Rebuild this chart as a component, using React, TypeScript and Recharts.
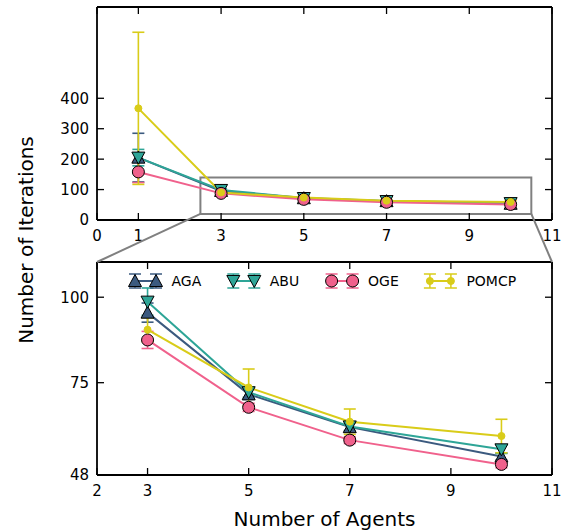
import React from 'react';
import { ComposedChart, Line, XAxis, YAxis, ErrorBar, ReferenceArea, Legend } from 'recharts';

// ---------- data ----------
const agents = [1, 3, 5, 7, 10];
const agaMean = [205, 95.5, 71.6, 62.0, 53.4];
const agaErr = [80, 2.8, 1.5, 1.2, 1.0];
const abuMean = [205, 98.7, 72.2, 62.2, 55.5];
const abuErr = [27, 4.0, 1.5, 1.2, 1.2];
const ogeMean = [158, 87.5, 67.8, 58.2, 51.1];
const ogeErr = [35, 2.5, 1.2, 1.0, 1.0];
const pomcpMean = [367, 90.5, 73.6, 63.6, 59.4];
const pomcpErr = [250, 3.5, 5.4, 3.7, 4.9];

const seriesNames = ['AGA', 'ABU', 'OGE', 'POMCP'];

const topXTicks = [0, 1, 3, 5, 7, 9, 11];
const topYTicks = [0, 100, 200, 300, 400];
const topXDomain = [0, 11];
const topYDomain = [0, 700];
const bottomXTicks = [2, 3, 5, 7, 9, 11];
const bottomYTicks = [48, 75, 100];
const bottomXDomain = [2, 11];
const bottomYDomain = [48, 110.3];
const zoomBox = { x1: 2.5, x2: 10.5, y1: 20, y2: 140 };

const xLabel = 'Number of Agents';
const yLabel = 'Number of Iterations';

// ---------- styles ----------
const FONT = 'DejaVu Sans, Verdana, sans-serif';
const COLORS = { AGA: '#3b5a7f', ABU: '#2ea597', OGE: '#f0618c', POMCP: '#d9cc19' };
const W = 566;
const PLOT_LEFT = 97;
const PLOT_RIGHT = 552;
const TOP_PLOT_TOP = 7;
const TOP_PLOT_BOTTOM = 220;
const TOP_H = 250;
const BOT_TOP = 240;
const BOT_H = 292;
const BOT_PLOT_TOP = 262;
const BOT_PLOT_BOTTOM = 475;
const TICK_LEN = 7;
const FRAME_W = 1.8;
const LEFT_AX_W = 40;
const RIGHT_AX_W = 8;
const BOTTOM_AX_H = 25;
const TOP_AX_H = 5;

const tableData = agents.map((a, i) => ({
  agents: a,
  AGA: agaMean[i], AGAErr: agaErr[i],
  ABU: abuMean[i], ABUErr: abuErr[i],
  OGE: ogeMean[i], OGEErr: ogeErr[i],
  POMCP: pomcpMean[i], POMCPErr: pomcpErr[i],
}));
const bottomData = tableData.filter((d) => d.agents >= bottomXDomain[0]);

// ---------- markers ----------
function Marker({ kind, cx, cy, color }: any) {
  if (cx == null || cy == null || isNaN(cx) || isNaN(cy)) return null;
  if (kind === 'AGA') {
    const s = 6.5;
    return <polygon points={`${cx},${cy - s} ${cx + s},${cy + s * 0.85} ${cx - s},${cy + s * 0.85}`} fill={color} stroke="#000" strokeWidth={1} />;
  }
  if (kind === 'ABU') {
    const s = 6.5;
    return <polygon points={`${cx},${cy + s} ${cx + s},${cy - s * 0.85} ${cx - s},${cy - s * 0.85}`} fill={color} stroke="#000" strokeWidth={1} />;
  }
  if (kind === 'OGE') {
    return <circle cx={cx} cy={cy} r={6} fill={color} stroke="#000" strokeWidth={1} />;
  }
  return <circle cx={cx} cy={cy} r={3.5} fill={color} stroke={color} strokeWidth={1} />;
}

const makeDot = (kind: string) => (props: any) => (
  <Marker key={`${kind}-${props.index}`} kind={kind} cx={props.cx} cy={props.cy} color={COLORS[kind as keyof typeof COLORS]} />
);

// ---------- ticks ----------
const LeftTick = (props: any) => {
  const { x, y, payload } = props;
  return (
    <g>
      <line x1={x} y1={y} x2={x + TICK_LEN} y2={y} stroke="#000" strokeWidth={1.3} />
      <text x={x - 8} y={y} dy="0.36em" textAnchor="end" fontSize={15} fontFamily={FONT} fill="#000">{payload.value}</text>
    </g>
  );
};
const RightTick = (props: any) => {
  const { x, y } = props;
  return <line x1={x} y1={y} x2={x - TICK_LEN} y2={y} stroke="#000" strokeWidth={1.3} />;
};
const BottomTick = (props: any) => {
  const { x, y, payload } = props;
  return (
    <g>
      <line x1={x} y1={y} x2={x} y2={y - TICK_LEN} stroke="#000" strokeWidth={1.3} />
      <text x={x} y={y + 21} textAnchor="middle" fontSize={15} fontFamily={FONT} fill="#000">{payload.value}</text>
    </g>
  );
};
const TopTick = (props: any) => {
  const { x, y } = props;
  return <line x1={x} y1={y} x2={x} y2={y + TICK_LEN} stroke="#000" strokeWidth={1.3} />;
};

// ---------- legend ----------
function LegendContent() {
  const startX = 135 - PLOT_LEFT;
  const step = 98.3;
  const cy = 14;
  return (
    <svg width={PLOT_RIGHT - PLOT_LEFT} height={28} style={{ display: 'block', overflow: 'visible' }}>
      {seriesNames.map((name, i) => {
        const x0 = startX + i * step;
        const x1 = x0 + 21;
        const c = COLORS[name as keyof typeof COLORS];
        return (
          <g key={name}>
            <line x1={x0} y1={cy} x2={x1} y2={cy} stroke={c} strokeWidth={2} />
            {[x0, x1].map((xx) => (
              <g key={xx}>
                <line x1={xx} y1={cy - 7} x2={xx} y2={cy + 7} stroke={c} strokeWidth={1.5} />
                <line x1={xx - 6} y1={cy - 7} x2={xx + 6} y2={cy - 7} stroke={c} strokeWidth={1.5} />
                <line x1={xx - 6} y1={cy + 7} x2={xx + 6} y2={cy + 7} stroke={c} strokeWidth={1.5} />
                <Marker kind={name} cx={xx} cy={cy} color={c} />
              </g>
            ))}
            <text x={x0 + 36.5} y={cy} dy="0.36em" fontSize={14} fontFamily={FONT} fill="#000">{name}</text>
          </g>
        );
      })}
    </svg>
  );
}

// ---------- series ----------
function renderSeries() {
  return seriesNames.map((name) => (
    <Line
      key={name}
      xAxisId="b"
      yAxisId="l"
      type="linear"
      dataKey={name}
      stroke={COLORS[name as keyof typeof COLORS]}
      strokeWidth={2}
      dot={makeDot(name)}
      activeDot={false}
      isAnimationActive={false}
    >
      <ErrorBar dataKey={`${name}Err`} direction="y" width={6} stroke={COLORS[name as keyof typeof COLORS]} strokeWidth={1.6} isAnimationActive={false} />
    </Line>
  ));
}

function axes(xDomain: number[], xTicks: number[], yDomain: number[], yTicks: number[]) {
  return [
    <XAxis key="xb" xAxisId="b" dataKey="agents" type="number" domain={xDomain} ticks={xTicks} interval={0}
      height={BOTTOM_AX_H} tickSize={0} tickMargin={0} tickLine={false} tick={<BottomTick />}
      axisLine={{ stroke: '#000', strokeWidth: FRAME_W }} allowDataOverflow />,
    <XAxis key="xt" xAxisId="t" orientation="top" dataKey="agents" type="number" domain={xDomain} ticks={xTicks} interval={0}
      height={TOP_AX_H} tickSize={0} tickMargin={0} tickLine={false} tick={<TopTick />}
      axisLine={{ stroke: '#000', strokeWidth: FRAME_W }} allowDataOverflow />,
    <YAxis key="yl" yAxisId="l" type="number" domain={yDomain} ticks={yTicks} interval={0}
      width={LEFT_AX_W} tickSize={0} tickMargin={0} tickLine={false} tick={<LeftTick />}
      axisLine={{ stroke: '#000', strokeWidth: FRAME_W }} allowDataOverflow />,
    <YAxis key="yr" yAxisId="r" orientation="right" type="number" domain={yDomain} ticks={yTicks} interval={0}
      width={RIGHT_AX_W} tickSize={0} tickMargin={0} tickLine={false} tick={<RightTick />}
      axisLine={{ stroke: '#000', strokeWidth: FRAME_W }} allowDataOverflow />,
  ];
}

export default function App() {
  const topScaleX = (v: number) => PLOT_LEFT + ((v - topXDomain[0]) / (topXDomain[1] - topXDomain[0])) * (PLOT_RIGHT - PLOT_LEFT);
  const topScaleY = (v: number) => TOP_PLOT_BOTTOM - ((v - topYDomain[0]) / (topYDomain[1] - topYDomain[0])) * (TOP_PLOT_BOTTOM - TOP_PLOT_TOP);
  const boxL = topScaleX(zoomBox.x1);
  const boxR = topScaleX(zoomBox.x2);
  const boxB = topScaleY(zoomBox.y1);

  return (
    <div style={{ position: 'fixed', left: 0, top: 0, width: W, height: 532, background: '#fff', fontFamily: FONT }}>
      <div style={{ position: 'absolute', left: 0, top: 0 }}>
        <ComposedChart width={W} height={TOP_H} data={tableData}
          margin={{ top: TOP_PLOT_TOP - TOP_AX_H, right: W - PLOT_RIGHT - RIGHT_AX_W, bottom: TOP_H - TOP_PLOT_BOTTOM - BOTTOM_AX_H, left: PLOT_LEFT - LEFT_AX_W }}>
          {axes(topXDomain, topXTicks, topYDomain, topYTicks)}
          <ReferenceArea xAxisId="b" yAxisId="l" x1={zoomBox.x1} x2={zoomBox.x2} y1={zoomBox.y1} y2={zoomBox.y2}
            fill="none" fillOpacity={0} stroke="#808080" strokeWidth={2} ifOverflow="visible" />
          {renderSeries()}
        </ComposedChart>
      </div>
      <div style={{ position: 'absolute', left: 0, top: BOT_TOP }}>
        <ComposedChart width={W} height={BOT_H} data={bottomData}
          margin={{ top: BOT_PLOT_TOP - BOT_TOP - TOP_AX_H, right: W - PLOT_RIGHT - RIGHT_AX_W, bottom: BOT_TOP + BOT_H - BOT_PLOT_BOTTOM - BOTTOM_AX_H, left: PLOT_LEFT - LEFT_AX_W }}>
          {axes(bottomXDomain, bottomXTicks, bottomYDomain, bottomYTicks)}
          {renderSeries()}
          <Legend layout="horizontal" verticalAlign="middle" align="center" content={() => <LegendContent />}
            wrapperStyle={{ position: 'absolute', left: PLOT_LEFT, top: 281 - BOT_TOP - 14, width: PLOT_RIGHT - PLOT_LEFT, height: 28 }} />
        </ComposedChart>
      </div>
      <svg width={W} height={532} style={{ position: 'absolute', left: 0, top: 0, pointerEvents: 'none' }}>
        <line x1={boxL} y1={boxB} x2={PLOT_LEFT} y2={BOT_PLOT_TOP} stroke="#808080" strokeWidth={2} />
        <line x1={boxR} y1={boxB} x2={PLOT_RIGHT} y2={BOT_PLOT_TOP} stroke="#808080" strokeWidth={2} />
        <text x={(PLOT_LEFT + PLOT_RIGHT) / 2} y={526} textAnchor="middle" fontSize={20} fontFamily={FONT} fill="#000">{xLabel}</text>
        <text x={33} y={240} textAnchor="middle" fontSize={20} fontFamily={FONT} fill="#000" transform="rotate(-90 33 240)">{yLabel}</text>
      </svg>
    </div>
  );
}
